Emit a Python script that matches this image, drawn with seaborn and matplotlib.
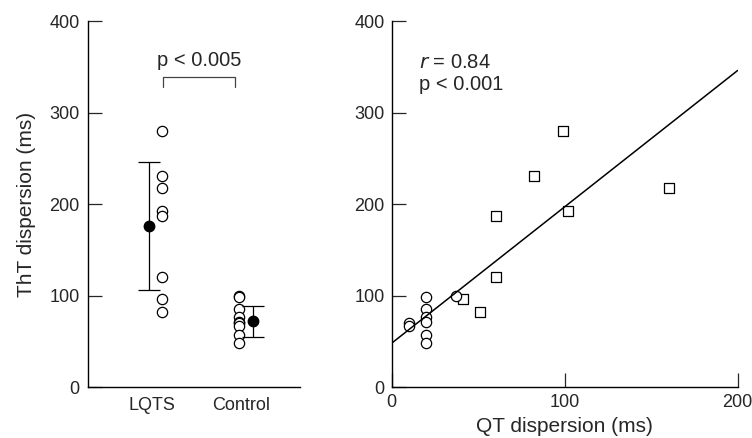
import numpy as np
import pandas as pd
import matplotlib
matplotlib.use("Agg")
import matplotlib.pyplot as plt
import seaborn as sns

sns.set_theme(style="ticks")
plt.rcParams['font.family'] = ['Liberation Sans', 'DejaVu Sans']

# --- data ---
groups = ['LQTS', 'Control']

lqts_tht = [280, 231, 218, 192, 187, 120, 96, 82]
lqts_qt = [99, 82, 160, 102, 60, 60, 41, 51]

control_tht = [99, 98, 85, 76, 71, 70, 67, 57, 48]
control_qt = [37, 20, 20, 20, 20, 10, 10, 20, 20]

group_mean = [176, 72]
group_sd = [70, 17]

fit_x = [0, 200]
fit_y = [48, 346]

df_l = pd.DataFrame({'qt': lqts_qt, 'tht': lqts_tht, 'group': 'LQTS'})
df_c = pd.DataFrame({'qt': control_qt, 'tht': control_tht, 'group': 'Control'})

fig = plt.figure(figsize=(7.52, 4.38), dpi=100)
ax1 = fig.add_axes([0.117, 0.1164, 0.282, 0.8356])
ax2 = fig.add_axes([0.521, 0.1164, 0.460, 0.8356])

# --- left panel: individual values + mean/SD ---
pts_off = [0.11, -0.03]
mean_off = [-0.034, 0.135]
for i, d in enumerate([df_l, df_c]):
    d = d.assign(pos=i + pts_off[i])
    sns.scatterplot(data=d, x='pos', y='tht', ax=ax1, marker='o', s=55,
                    facecolor='white', edgecolor='black', linewidth=0.9, legend=False)
    ax1.errorbar(i + mean_off[i], group_mean[i], yerr=group_sd[i], fmt='o',
                 color='black', ms=7.5, elinewidth=0.9, capsize=8, capthick=0.9)

ax1.plot([0.12, 0.12, 0.93, 0.93], [328, 339, 339, 328], color='#444444', lw=0.9)
ax1.text(0.525, 346, 'p < 0.005', ha='center', va='bottom', fontsize=14.5)

ax1.set_xlim(-0.72, 1.66)
ax1.set_ylim(0, 400)
ax1.set_xticks([0, 1])
ax1.set_xticklabels(groups)
ax1.set_yticks([0, 100, 200, 300, 400])
ax1.tick_params(axis='x', length=0, pad=7, labelsize=13)
ax1.tick_params(axis='y', direction='in', length=10, width=0.9, pad=6, labelsize=13)
ax1.set_xlabel('')
ax1.set_ylabel('ThT dispersion (ms)', fontsize=15, labelpad=10)

# --- right panel: ThT vs QT dispersion ---
sns.scatterplot(data=df_l, x='qt', y='tht', ax=ax2, marker='s', s=45,
                facecolor='white', edgecolor='black', linewidth=0.9, legend=False)
sns.scatterplot(data=df_c, x='qt', y='tht', ax=ax2, marker='o', s=55,
                facecolor='white', edgecolor='black', linewidth=0.9, legend=False)
sns.lineplot(x=fit_x, y=fit_y, ax=ax2, color='black', lw=1.1)

ax2.text(16, 355, r'$r$ = 0.84', ha='left', va='center', fontsize=14.5)
ax2.text(16, 331, 'p < 0.001', ha='left', va='center', fontsize=14.5)

ax2.set_xlim(0, 200)
ax2.set_ylim(0, 400)
ax2.set_xticks([0, 100, 200])
ax2.set_yticks([0, 100, 200, 300, 400])
ax2.tick_params(axis='both', direction='in', length=10, width=0.9, pad=5, labelsize=13)
ax2.set_xlabel('QT dispersion (ms)', fontsize=15, labelpad=4)
ax2.set_ylabel('')

for ax in (ax1, ax2):
    ax.spines['top'].set_visible(False)
    ax.spines['right'].set_visible(False)
    for s in ('left', 'bottom'):
        ax.spines[s].set_linewidth(1.0)
        ax.spines[s].set_color('black')

fig.savefig('out.png', dpi=100)
